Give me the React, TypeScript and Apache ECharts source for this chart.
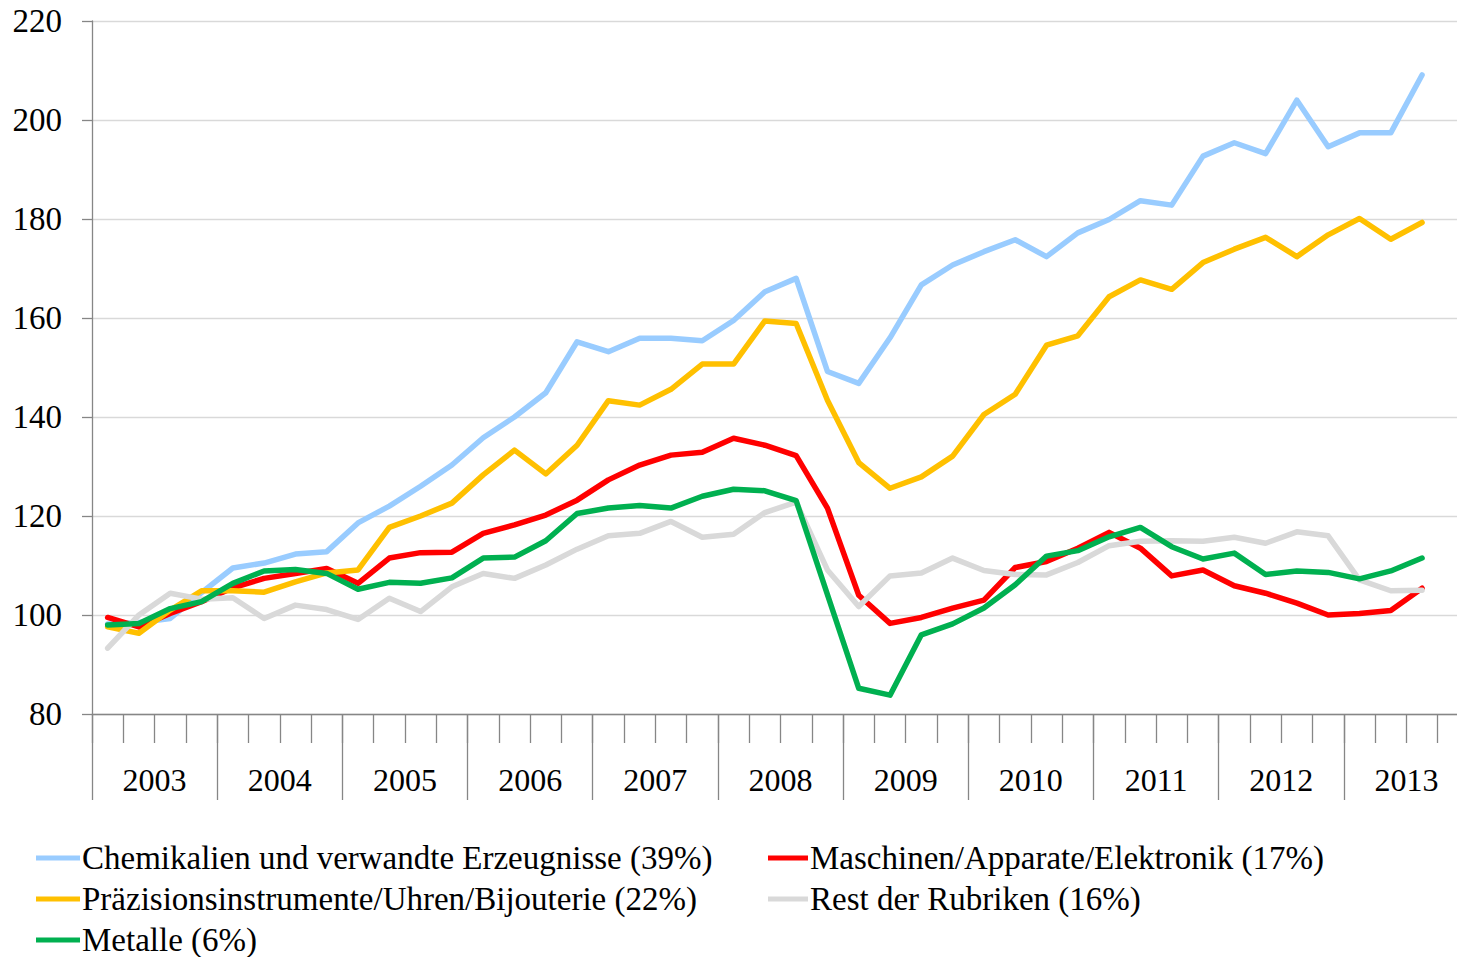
import React, { useEffect, useRef } from "react";
import * as echarts from "echarts";

const years = ["2003", "2004", "2005", "2006", "2007", "2008", "2009", "2010", "2011", "2012", "2013"];
const quarters = years.flatMap((y) => ["Q1", "Q2", "Q3", "Q4"].map((q) => `${y} ${q}`));

const yTicks = [80, 100, 120, 140, 160, 180, 200, 220];

const chemikalien = [
  98.2, 98.5, 99.3, 104.5, 109.5, 110.5, 112.3, 112.8, 118.6, 122, 126, 130.3, 135.8,
  140, 144.9, 155.2, 153.2, 155.9, 155.9, 155.4, 159.5, 165.3, 168, 149.2, 146.8,
  156, 166.7, 170.7, 173.4, 175.8, 172.4, 177.2, 179.9, 183.7,
  182.8, 192.7, 195.4, 193.2, 204, 194.6, 197.4, 197.4, 209.1,
];
const maschinen = [
  99.5, 97.6, 100.3, 102.7, 105.5, 107.4, 108.4, 109.4, 106.4, 111.5, 112.6, 112.7, 116.5,
  118.2, 120.2, 123.2, 127.3, 130.3, 132.3, 132.9, 135.7, 134.3, 132.2, 121.6, 104.0,
  98.3, 99.5, 101.4, 103.0, 109.6, 110.8, 113.5, 116.7, 113.5,
  107.9, 109.1, 105.9, 104.4, 102.4, 100, 100.3, 100.9, 105.4,
];
const praezision = [
  97.6, 96.3, 101, 104.9, 104.9, 104.6, 106.7, 108.5, 109.1, 117.7, 120, 122.6, 128.3,
  133.3, 128.5, 134.3, 143.3, 142.4, 145.6, 150.7, 150.7, 159.4, 158.9, 143.4, 130.8,
  125.6, 127.9, 132.1, 140.5, 144.6, 154.5, 156.4, 164.3, 167.7,
  165.8, 171.2, 173.9, 176.3, 172.4, 176.8, 180.1, 175.9, 179.3,
];
const rest = [
  93.3, 100, 104.4, 103.2, 103.5, 99.3, 102, 101.1, 99.1, 103.4, 100.7, 105.7, 108.4,
  107.4, 110.1, 113.3, 116, 116.5, 118.9, 115.7, 116.3, 120.7, 122.8, 109.1, 101.7,
  107.9, 108.5, 111.5, 109, 108.2, 108.1, 110.6, 114, 114.9,
  115, 114.9, 115.7, 114.5, 116.8, 116, 107.1, 104.9, 105,
];
const metalle = [
  98, 98.3, 101.3, 102.7, 106.4, 108.9, 109.2, 108.4, 105.2, 106.6, 106.4, 107.5, 111.5,
  111.7, 115, 120.5, 121.6, 122.1, 121.6, 124, 125.4, 125.1, 123.1, 104.1, 85.2,
  83.8, 96, 98.2, 101.4, 106.1, 111.9, 113, 115.8, 117.7,
  113.8, 111.3, 112.5, 108.2, 108.9, 108.6, 107.3, 108.9, 111.5,
];

const seriesNames = [
  "Chemikalien und verwandte Erzeugnisse (39%)",
  "Maschinen/Apparate/Elektronik (17%)",
  "Präzisionsinstrumente/Uhren/Bijouterie (22%)",
  "Rest der Rubriken (16%)",
  "Metalle (6%)",
];
const seriesData = [chemikalien, maschinen, praezision, rest, metalle];
const seriesColors = ["#99CCFF", "#FF0000", "#FFC000", "#D9D9D9", "#00B050"];

const FONT = "'Liberation Serif', 'Times New Roman', serif";
const AXIS_COLOR = "#868686";

// legend slot placement: [left, centerY, iconWidth]
const legendSlots: [number, number, number][] = [
  [36, 858, 44],
  [768, 858, 40],
  [36, 899, 44],
  [768, 899, 40],
  [36, 940, 44],
];

export default function App() {
  const ref = useRef<HTMLDivElement>(null);
  useEffect(() => {
    document.body.style.margin = "0";
    document.body.style.overflow = "hidden";
    const chart = echarts.init(ref.current!, null, { renderer: "svg" });
    const nQ = quarters.length;
    const LEG_FS = 33;
    chart.setOption({
      animation: false,
      backgroundColor: "#ffffff",
      grid: { left: 92, top: 21, right: 0, bottom: 243, containLabel: false },
      xAxis: [
        {
          type: "category",
          data: quarters,
          boundaryGap: true,
          axisLine: { show: true, lineStyle: { color: AXIS_COLOR, width: 1.3 } },
          axisTick: { show: true, interval: 0, length: 29, lineStyle: { color: AXIS_COLOR, width: 1.3 } },
          axisLabel: { show: false },
          splitLine: { show: false },
        },
        {
          type: "value",
          position: "bottom",
          min: 0,
          max: nQ,
          interval: 4,
          axisLine: { show: false },
          axisTick: { show: true, length: 86, lineStyle: { color: AXIS_COLOR, width: 1.3 } },
          axisLabel: {
            show: true,
            customValues: years.map((_, i) => i * 4 + 2),
            formatter: (v: number) => years[Math.round((v - 2) / 4)] ?? "",
            fontFamily: FONT,
            fontSize: 32,
            color: "#000",
            margin: 50,
          },
          splitLine: { show: false },
        },
      ],
      yAxis: {
        type: "value",
        min: yTicks[0],
        max: yTicks[yTicks.length - 1],
        interval: 20,
        axisLine: { show: true, lineStyle: { color: AXIS_COLOR, width: 1.3 } },
        axisTick: { show: true, length: 10, lineStyle: { color: AXIS_COLOR, width: 1.3 } },
        axisLabel: { fontFamily: FONT, fontSize: 33, color: "#000", margin: 30 },
        splitLine: { show: true, lineStyle: { color: "#D9D9D9", width: 1.3 } },
      },
      legend: legendSlots.map(([left, cy, w], i) => ({
        data: [seriesNames[i]],
        orient: "horizontal",
        left,
        top: cy - LEG_FS / 2,
        padding: 0,
        itemWidth: w,
        itemHeight: 5,
        icon: "rect",
        textStyle: {
          fontFamily: FONT,
          fontSize: LEG_FS,
          color: "#000",
          lineHeight: LEG_FS,
          padding: [0, 0, 0, -3],
        },
      })),
      series: seriesNames.map((name, i) => ({
        name,
        type: "line",
        data: seriesData[i],
        xAxisIndex: 0,
        yAxisIndex: 0,
        symbol: "none",
        color: seriesColors[i],
        lineStyle: { color: seriesColors[i], width: 5.5, join: "round", cap: "round" },
        z: 2 + i,
      })),
    });
    return () => chart.dispose();
  }, []);
  return <div ref={ref} style={{ width: 1469, height: 957 }} />;
}
